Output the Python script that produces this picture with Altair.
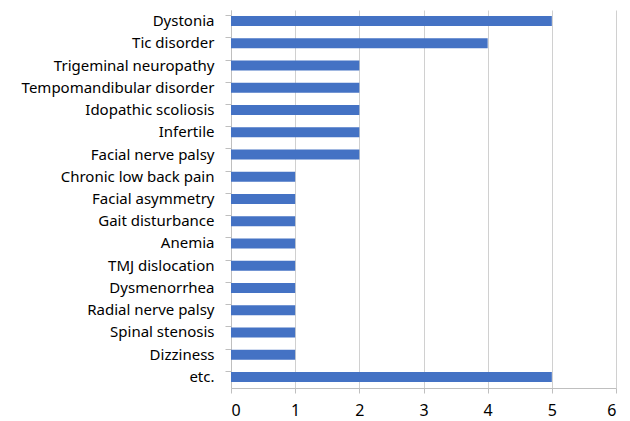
import altair as alt
import pandas as pd

categories = ["Dystonia", "Tic disorder", "Trigeminal neuropathy", "Tempomandibular disorder",
              "Idopathic scoliosis", "Infertile", "Facial nerve palsy", "Chronic low back pain",
              "Facial asymmetry", "Gait disturbance", "Anemia", "TMJ dislocation",
              "Dysmenorrhea", "Radial nerve palsy", "Spinal stenosis", "Dizziness", "etc."]
values = [5, 4, 2, 2, 2, 2, 2, 1, 1, 1, 1, 1, 1, 1, 1, 1, 5]

df = pd.DataFrame({"category": categories, "value": values})

FONT = "Noto Sans"

chart = alt.Chart(df).mark_bar(color="#4472C4", size=10).encode(
    x=alt.X("value:Q", scale=alt.Scale(domain=[0, 6], nice=False),
            axis=alt.Axis(title=None, values=[0, 1, 2, 3, 4, 5, 6], format="d",
                          grid=True, gridColor="#d0d0d0", gridWidth=1,
                          domainColor="#bfbfbf", tickColor="#bfbfbf", tickSize=5,
                          labelFont=FONT, labelFontSize=16, labelColor="#000000",
                          labelPadding=9)),
    y=alt.Y("category:N", sort=categories,
            scale=alt.Scale(paddingInner=0.5, paddingOuter=0.25),
            axis=alt.Axis(title=None, bandPosition=0, domainColor="#bfbfbf",
                          tickColor="#bfbfbf", tickSize=6, grid=False,
                          labelFont=FONT, labelFontSize=15, labelColor="#000000",
                          labelPadding=11, labelLimit=300)),
).properties(
    width=385, height=378,
    autosize=alt.AutoSizeParams(type="none"),
    padding={"left": 223, "top": 2, "right": 6, "bottom": 33},
).configure_view(stroke=None)

chart.save("out.html", embed_options={"renderer": "svg", "actions": False})
